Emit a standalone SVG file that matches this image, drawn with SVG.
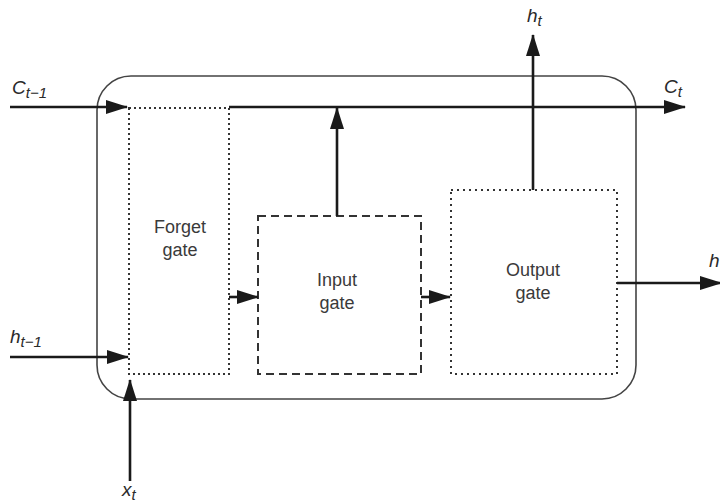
<svg xmlns="http://www.w3.org/2000/svg" width="720" height="504" viewBox="0 0 720 504">
<defs>
<style>
.lbl{font-family:"Liberation Sans",Arial,sans-serif;font-size:18px;fill:#3a3a3a;text-anchor:middle}
.var{font-family:"Liberation Sans",Arial,sans-serif;font-size:19px;font-style:italic;fill:#2a2a2a}
.sub{font-size:15px}
.ar{stroke:#1a1a1a;stroke-width:2.6;fill:none}
.gate{fill:none;stroke:#333;stroke-width:2}
</style>
<marker id="ah" markerWidth="22" markerHeight="14" refX="21" refY="7" orient="auto" markerUnits="userSpaceOnUse">
<path d="M0,0 L22,7 L0,14 Z" fill="#1a1a1a"/>
</marker>
</defs>
<rect width="720" height="504" fill="#fff"/>
<g id="cell"><rect x="97" y="76" width="539" height="323" rx="34" fill="none" stroke="#444" stroke-width="1.6"/></g>
<g id="forget"><rect class="gate" x="129" y="108" width="100" height="266" stroke-dasharray="2 3"/>
<text class="lbl" x="180" y="233">Forget</text><text class="lbl" x="180" y="256">gate</text></g>
<g id="input"><rect class="gate" x="258" y="216" width="163" height="158" stroke-dasharray="8 5"/>
<text class="lbl" x="337" y="286">Input</text><text class="lbl" x="337" y="309">gate</text></g>
<g id="output"><rect class="gate" x="451" y="190" width="166" height="184" stroke-dasharray="2 4"/>
<text class="lbl" x="533" y="276">Output</text><text class="lbl" x="533" y="299">gate</text></g>
<g id="connectors">
<line class="ar" x1="10" y1="107" x2="127" y2="107" marker-end="url(#ah)"/>
<line class="ar" x1="229" y1="107" x2="685" y2="107" marker-end="url(#ah)"/>
<line class="ar" x1="10" y1="357" x2="128" y2="357" marker-end="url(#ah)"/>
<line class="ar" x1="130" y1="481" x2="130" y2="380" marker-end="url(#ah)"/>
<line class="ar" x1="229" y1="297" x2="258" y2="297" marker-end="url(#ah)"/>
<line class="ar" x1="421" y1="297" x2="450" y2="297" marker-end="url(#ah)"/>
<line class="ar" x1="337" y1="216" x2="337" y2="108" marker-end="url(#ah)"/>
<line class="ar" x1="533" y1="190" x2="533" y2="35" marker-end="url(#ah)"/>
<line class="ar" x1="617" y1="283" x2="721" y2="283" marker-end="url(#ah)"/>
</g>
<g id="labels">
<text class="var" x="12" y="94">C<tspan class="sub" dy="4">t−1</tspan></text>
<text class="var" x="664" y="93">C<tspan class="sub" dy="4">t</tspan></text>
<text class="var" x="527" y="22">h<tspan class="sub" dy="4">t</tspan></text>
<text class="var" x="10" y="343">h<tspan class="sub" dy="4">t−1</tspan></text>
<text class="var" x="122" y="496">x<tspan class="sub" dy="4">t</tspan></text>
<text class="var" x="709" y="267">h</text>
</g>
</svg>
